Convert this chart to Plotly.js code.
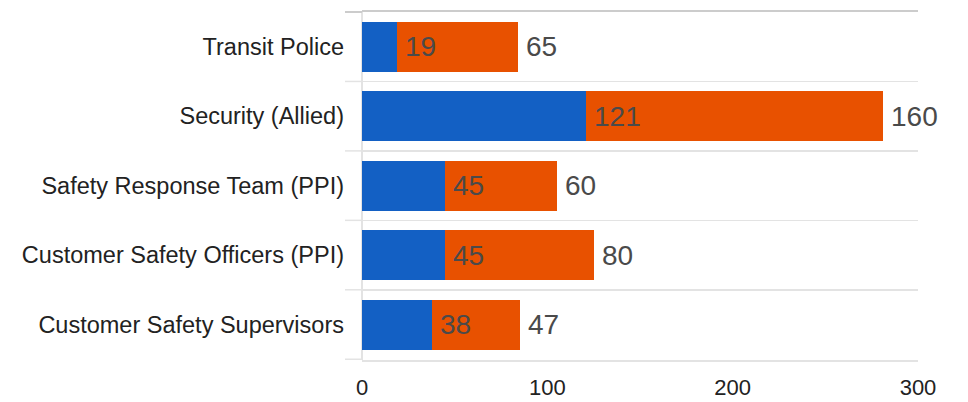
<!DOCTYPE html>
<html>
<head>
<meta charset="utf-8">
<script src="https://cdn.plot.ly/plotly-3.0.1.min.js"></script>
<style>html,body{margin:0;padding:0;background:#fff;}#chart{width:968px;height:402px;}</style>
</head>
<body>
<div id="chart"></div>
<script>
const categories = ["Transit Police", "Security (Allied)", "Safety Response Team (PPI)", "Customer Safety Officers (PPI)", "Customer Safety Supervisors"];
const blueValues = [19, 121, 45, 45, 38];
const orangeValues = [65, 160, 60, 80, 47];
const xTicks = [0, 100, 200, 300];

const BLUE = "#1360C4";
const ORANGE = "#E85100";
const FONT = "Liberation Sans, Arial, sans-serif";
const GRID = "#e3e3e3";

const totals = blueValues.map((v, i) => v + orangeValues[i]);

const traces = [
  {type: "bar", orientation: "h", y: categories, x: blueValues, marker: {color: BLUE}, hoverinfo: "none", width: 0.72},
  {type: "bar", orientation: "h", y: categories, x: orangeValues, marker: {color: ORANGE}, hoverinfo: "none", width: 0.72}
];

const annotations = [];
categories.forEach((c, i) => {
  annotations.push({x: blueValues[i], y: c, xref: "x", yref: "y", text: String(blueValues[i]), showarrow: false, xanchor: "left", xshift: 6, font: {family: FONT, size: 28, color: "#4a4a4a"}});
  annotations.push({x: totals[i], y: c, xref: "x", yref: "y", text: String(orangeValues[i]), showarrow: false, xanchor: "left", xshift: 6, font: {family: FONT, size: 28, color: "#4a4a4a"}});
});

// short extensions of the category-boundary grid lines to the left of the plot
const stubX0 = -17 / 556;
const shapes = [];
for (let i = 0; i <= categories.length; i++) {
  shapes.push({type: "line", xref: "paper", yref: "y", x0: stubX0, x1: 0, y0: i - 0.5, y1: i - 0.5, line: {color: i === 0 ? "#cccccc" : GRID, width: i === 0 ? 2 : 1.5}});
}
shapes.push({type: "line", xref: "paper", yref: "paper", x0: 0, x1: 1, y0: 1, y1: 1, line: {color: "#cccccc", width: 2}});

const layout = {
  width: 968, height: 402,
  margin: {l: 362, r: 50, t: 11, b: 42},
  barmode: "stack",
  showlegend: false,
  paper_bgcolor: "#fff", plot_bgcolor: "#fff",
  font: {family: FONT, color: "#222"},
  xaxis: {range: [0, 300], tickvals: xTicks, ticktext: xTicks.map(String), showgrid: false, zeroline: true, zerolinecolor: GRID, zerolinewidth: 1.5, showline: true, linecolor: GRID, linewidth: 1.5, ticks: "", ticklabelstandoff: 7, tickfont: {size: 22, color: "#222"}, fixedrange: true},
  yaxis: {type: "category", categoryorder: "array", categoryarray: categories, autorange: "reversed", tickson: "boundaries", showgrid: true, gridcolor: GRID, gridwidth: 1.5, ticks: "", ticklabelstandoff: 17, tickfont: {size: 23.5, color: "#222"}, showline: false, zeroline: false, fixedrange: true},
  shapes: shapes,
  annotations: annotations
};

Plotly.newPlot("chart", traces, layout, {displayModeBar: false, staticPlot: true});
</script>
</body>
</html>
